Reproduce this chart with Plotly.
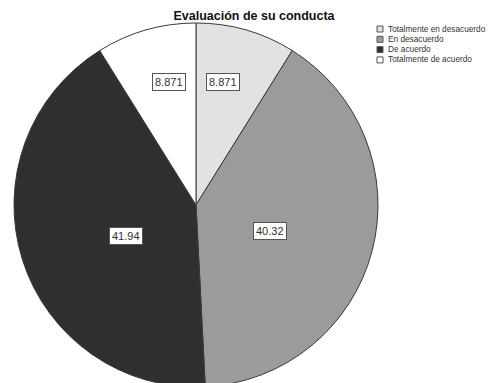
import math

import plotly.graph_objects as go

# data
categories = [
    "Totalmente en desacuerdo",
    "En desacuerdo",
    "De acuerdo",
    "Totalmente de acuerdo",
]
percentages = [8.871, 40.32, 41.94, 8.871]
value_labels = ["8.871", "40.32", "41.94", "8.871"]
slice_colors = ["#e2e2e2", "#9b9b9b", "#2f2f2f", "#ffffff"]

W, H = 492, 400
ML, MR, MT, MB = 14, 114, 23, 13
PW, PH = W - ML - MR, H - MT - MB
FONT = "Liberation Sans, Arial, sans-serif"

# where each boxed value label sits: fraction of radius, and position across the slice
label_radius = [0.743, 0.52, 0.51, 0.743]
label_span = [0.367, 0.512, 0.486, 0.633]


def px_to_paper(x, y):
    return (x - ML) / PW, (H - MB - y) / PH


fig = go.Figure()
fig.add_trace(
    go.Pie(
        labels=categories,
        values=percentages,
        sort=False,
        direction="clockwise",
        rotation=0,
        marker=dict(colors=slice_colors, line=dict(color="#3a3a3a", width=1)),
        textinfo="none",
        hoverinfo="label+value",
        showlegend=False,
        domain=dict(x=[0, 1], y=[0, 1]),
    )
)

# boxed value labels
cx, cy, r = ML + PW / 2, MT + PH / 2, PW / 2
total = sum(percentages)
start = 0.0
for val, txt, frac, span in zip(percentages, value_labels, label_radius, label_span):
    ang = (start + val * span) / total * 2 * math.pi
    start += val
    x, y = px_to_paper(cx + math.sin(ang) * r * frac, cy - math.cos(ang) * r * frac)
    fig.add_annotation(
        x=x, y=y, xref="paper", yref="paper", text=txt, showarrow=False,
        font=dict(family=FONT, size=11, color="#333333"),
        bgcolor="white", bordercolor="#555555", borderwidth=1, borderpad=2,
    )

# compact legend drawn by hand (swatch + text)
for i, (name, col) in enumerate(zip(categories, slice_colors)):
    top = 26 + i * 10.3
    x0, y1 = px_to_paper(377, top)
    x1, y0 = px_to_paper(383, top + 6)
    fig.add_shape(type="rect", xref="paper", yref="paper", x0=x0, x1=x1, y0=y0, y1=y1,
                  fillcolor=col, line=dict(color="#555555", width=1))
    tx, ty = px_to_paper(386, top + 3)
    fig.add_annotation(x=tx, y=ty, xref="paper", yref="paper", text=name, showarrow=False,
                       xanchor="left", yanchor="middle",
                       font=dict(family=FONT, size=8.25, color="#333333"))

fig.update_layout(
    width=W, height=H,
    margin=dict(l=ML, r=MR, t=MT, b=MB),
    paper_bgcolor="white",
    title=dict(text="<b>Evaluación de su conducta</b>", x=254 / W, xanchor="center",
               y=1 - 15.5 / H, yanchor="middle",
               font=dict(family=FONT, size=12.5, color="#111111")),
)

fig.write_html(
    "out.html",
    config={"displayModeBar": False},
    post_script="document.body.style.margin='0';"
    "document.body.style.overflow='hidden';"
    "document.documentElement.style.overflow='hidden';",
)
